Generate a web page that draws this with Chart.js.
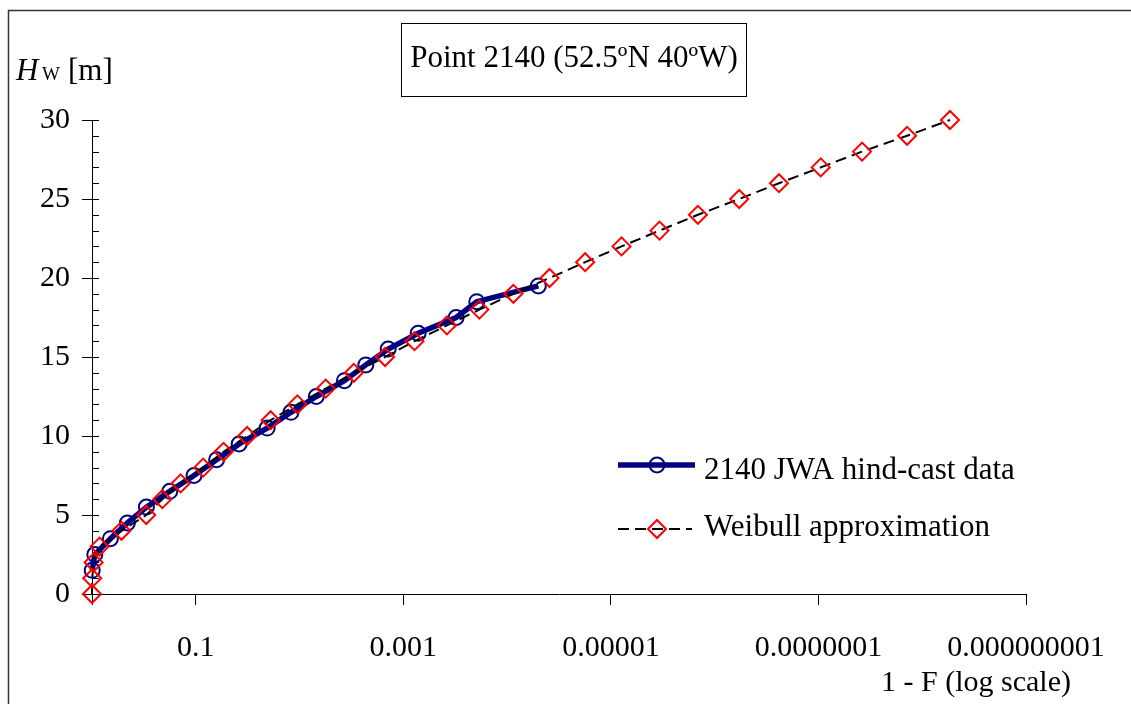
<!DOCTYPE html>
<html lang="en">
<head>
<meta charset="UTF-8">
<title>Point 2140 (52.5ºN 40ºW)</title>
<script src="https://cdn.jsdelivr.net/npm/chart.js"></script>
<style>
  body { margin: 0; background: #fff; }
  canvas { display: block; }
</style>
</head>
<body>
<canvas id="waveChart" width="1131" height="704"></canvas>
<script>
  // hind-cast wave heights [m] and their exceedance probability 1 - F
  const hindcastHeights = [1.5, 2.5, 3.5, 4.5, 5.5, 6.5, 7.5, 8.5, 9.5, 10.5,
    11.5, 12.5, 13.5, 14.5, 15.5, 16.5, 17.5, 18.5, 19.5];
  const hindcastProb = [0.995, 0.94, 0.665, 0.456, 0.299, 0.178, 0.104, 0.063, 0.0382, 0.0205,
    0.0121, 0.0069, 0.0037, 0.0023, 0.0014, 0.00072, 0.00031, 0.000196, 0.00005];

  // fitted Weibull curve
  const weibullHeights = [0, 1, 2, 3, 4, 5, 6, 7, 8, 9, 10, 11, 12, 13, 14, 15,
    16, 17, 18, 19, 20, 21, 22, 23, 24, 25, 26, 27, 28, 29, 30];
  const weibullProb = [1, 0.995, 0.965, 0.845, 0.52, 0.30, 0.21, 0.14, 0.085, 0.054, 0.032,
    0.019, 0.0105, 0.0056, 0.003, 0.0015, 0.00078, 0.00038, 0.000185, 0.000087, 0.000039,
    0.0000177, 0.0000079, 0.0000034, 0.00000145, 0.00000058, 0.00000024, 0.000000095,
    0.000000038, 0.000000014, 0.0000000054];

  const xTickValues = [0.000000001, 0.0000001, 0.00001, 0.001, 0.1, 1];
  const xTickLabels = ['0.000000001', '0.0000001', '0.00001', '0.001', '0.1', ''];

  const chartTitle = 'Point 2140 (52.5ºN 40ºW)';
  const xAxisTitle = '1 - F (log scale)';
  const seriesNames = ['2140 JWA hind-cast data', 'Weibull approximation'];

  const FONT = 'Liberation Serif';
  Chart.defaults.font.family = FONT;
  Chart.defaults.color = '#000';

  const navy = '#000080';
  const red = '#ff0000';

  function diamond(ctx, x, y, r) {
    ctx.beginPath();
    ctx.moveTo(x - r, y);
    ctx.lineTo(x, y - r);
    ctx.lineTo(x + r, y);
    ctx.lineTo(x, y + r);
    ctx.closePath();
    ctx.stroke();
  }

  // frame, inner tick marks, title box, axis titles and legend
  const decorations = {
    id: 'decorations',
    beforeDraw(chart) {
      const ctx = chart.ctx;
      ctx.save();
      ctx.fillStyle = '#fff';
      ctx.fillRect(0, 0, chart.width, chart.height);
      ctx.strokeStyle = '#333';
      ctx.lineWidth = 1.5;
      ctx.beginPath();
      ctx.moveTo(8.5, chart.height);
      ctx.lineTo(8.5, 10.5);
      ctx.lineTo(chart.width, 10.5);
      ctx.stroke();
      ctx.restore();
    },
    beforeDatasetsDraw(chart) {
      const { ctx, chartArea } = chart;
      const y = chart.scales.y;
      ctx.save();
      ctx.strokeStyle = '#000';
      ctx.lineWidth = 1;
      for (let v = y.min + 1; v <= y.max; v++) {
        const py = Math.round(y.getPixelForValue(v)) + 0.5;
        ctx.beginPath();
        ctx.moveTo(chartArea.left, py);
        ctx.lineTo(chartArea.left + 7, py);
        ctx.stroke();
      }
      ctx.restore();
    },
    afterDraw(chart) {
      const ctx = chart.ctx;
      ctx.save();

      // title box
      ctx.fillStyle = '#fff';
      ctx.fillRect(401.5, 23.5, 345, 73);
      ctx.strokeStyle = '#000';
      ctx.lineWidth = 1;
      ctx.strokeRect(401.5, 23.5, 345, 73);
      ctx.fillStyle = '#000';
      ctx.font = '31px ' + FONT;
      ctx.textAlign = 'center';
      ctx.textBaseline = 'alphabetic';
      ctx.fillText(chartTitle, 574, 67);

      // y axis title: H_W [m]
      ctx.textAlign = 'left';
      ctx.font = 'italic 31px ' + FONT;
      ctx.fillText('H', 16, 80);
      ctx.font = '19px ' + FONT;
      ctx.fillText('W', 42, 80);
      ctx.font = '31px ' + FONT;
      ctx.fillText('[m]', 68, 80);

      // x axis title
      ctx.font = '30px ' + FONT;
      ctx.fillText(xAxisTitle, 881, 691);

      // legend
      ctx.strokeStyle = navy;
      ctx.lineWidth = 5.5;
      ctx.beginPath();
      ctx.moveTo(618, 465);
      ctx.lineTo(695, 465);
      ctx.stroke();
      ctx.lineWidth = 2;
      ctx.beginPath();
      ctx.arc(657, 465, 7.5, 0, Math.PI * 2);
      ctx.stroke();

      ctx.strokeStyle = '#000';
      ctx.lineWidth = 2;
      ctx.setLineDash([11, 6]);
      ctx.beginPath();
      ctx.moveTo(618, 529);
      ctx.lineTo(692, 529);
      ctx.stroke();
      ctx.setLineDash([]);
      ctx.strokeStyle = red;
      ctx.lineWidth = 2;
      diamond(ctx, 657, 529, 9);

      ctx.fillStyle = '#000';
      ctx.font = '31px ' + FONT;
      ctx.fillText(seriesNames[0], 704, 479);
      ctx.fillText(seriesNames[1], 704, 536);
      ctx.restore();
    }
  };

  const ctx = document.getElementById('waveChart').getContext('2d');
  new Chart(ctx, {
    type: 'scatter',
    data: {
      datasets: [
        {
          label: seriesNames[1],
          data: weibullHeights.map((h, i) => ({ x: weibullProb[i], y: h })),
          showLine: true,
          borderColor: '#000',
          borderWidth: 2,
          borderDash: [11, 6],
          pointStyle: 'rectRot',
          pointRadius: 9,
          pointBorderColor: red,
          pointBackgroundColor: 'rgba(0,0,0,0)',
          pointBorderWidth: 2,
          clip: false,
          order: 0
        },
        {
          label: seriesNames[0],
          data: hindcastHeights.map((h, i) => ({ x: hindcastProb[i], y: h })),
          showLine: true,
          borderColor: navy,
          borderWidth: 5.5,
          pointStyle: 'circle',
          pointRadius: 7.5,
          pointBorderColor: navy,
          pointBackgroundColor: 'rgba(0,0,0,0)',
          pointBorderWidth: 2,
          clip: false,
          order: 1
        }
      ]
    },
    options: {
      responsive: false,
      animation: false,
      devicePixelRatio: 1,
      layout: { padding: { left: 8, right: 105, top: 120, bottom: 40 } },
      plugins: {
        legend: { display: false },
        tooltip: { enabled: false }
      },
      scales: {
        x: {
          type: 'logarithmic',
          reverse: true,
          min: 0.000000001,
          max: 1,
          afterBuildTicks: scale => {
            scale.ticks = xTickValues.map(v => ({ value: v }));
          },
          afterFit: scale => { scale.height = 70; },
          ticks: {
            callback: (value, index) => xTickLabels[index],
            font: { size: 30 },
            color: '#000',
            padding: 25,
            maxRotation: 0,
            autoSkip: false
          },
          grid: { drawOnChartArea: false, tickLength: 11, color: '#000' },
          border: { color: '#000', width: 1 }
        },
        y: {
          min: 0,
          max: 30,
          afterFit: scale => { scale.width = 84; },
          ticks: { stepSize: 5, font: { size: 30 }, color: '#000', padding: 12 },
          grid: { drawOnChartArea: false, tickLength: 10, color: '#000' },
          border: { color: '#000', width: 1 }
        }
      }
    },
    plugins: [decorations]
  });
</script>
</body>
</html>
